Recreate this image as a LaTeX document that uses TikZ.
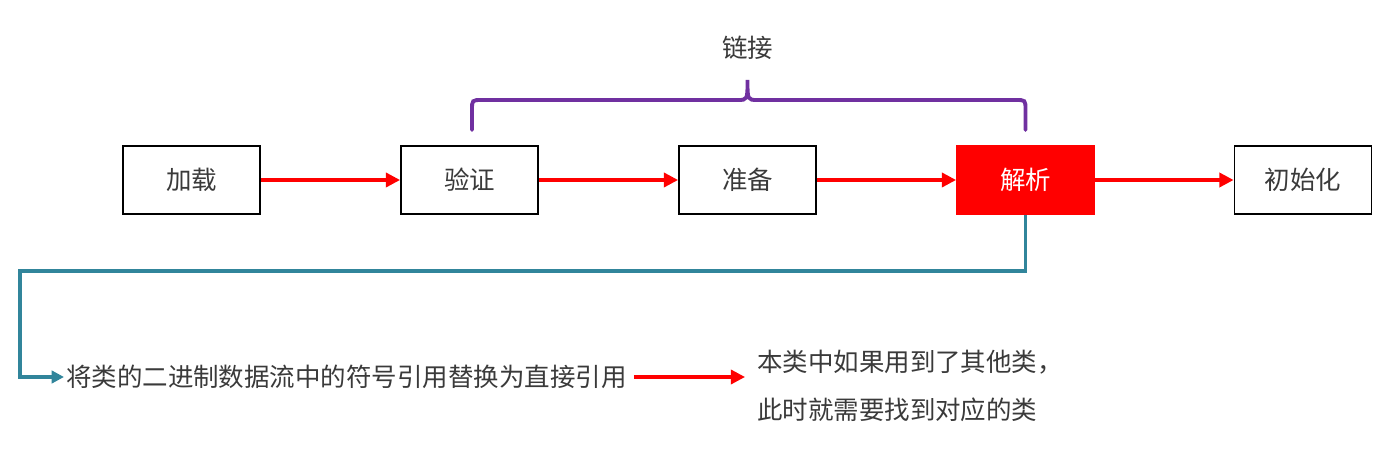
\documentclass[tikz,border=0pt]{standalone}
\usepackage{fontspec}
\setmainfont{Noto Sans CJK SC}
\usepackage{tikz}
\usetikzlibrary{arrows.meta, positioning}
\definecolor{StepRed}{RGB}{255,0,0}
\definecolor{BracePurple}{RGB}{112,48,160}
\definecolor{LinkTeal}{RGB}{49,133,155}
\definecolor{TextGray}{RGB}{58,58,58}

\begin{document}
\begin{tikzpicture}[
          stage/.style={rectangle, draw=black, line width=1.1pt, minimum width=2.74cm,
                        minimum height=1.36cm, align=center, font=\fontsize{14.5}{17}\selectfont,
                        text=TextGray},
          arr/.style={-{Triangle[length=8pt, width=8pt]}, draw=StepRed, line width=1.8pt},
          link/.style={-{Triangle[length=7pt, width=7pt]}, draw=LinkTeal, line width=1.8pt},
          note/.style={align=left, font=\fontsize{14.5}{27}\selectfont, text=TextGray}
        ]
        \useasboundingbox (0,0) rectangle (28,8.98);

        \node[stage]                   (load)  at (3.83,  5.38) {加载};
        \node[stage]                   (verify) at (9.39, 5.38) {验证};
        \node[stage]                   (prep)  at (14.95, 5.38) {准备};
        \node[stage, fill=StepRed, draw=StepRed, text=white]
                                       (resolve) at (20.51, 5.38) {解析};
        \node[stage]                   (init)  at (26.06, 5.38) {初始化};

        \draw[arr] (load)   -- (verify);
        \draw[arr] (verify) -- (prep);
        \draw[arr] (prep)   -- (resolve);
        \draw[arr] (resolve) -- (init);

        % brace over the linking phases
        \draw[draw=BracePurple, line width=2.2pt, line cap=round]
              (9.44,6.38) -- (9.44,6.78) .. controls (9.44,6.98) .. (9.64,6.98)
              -- (14.75,6.98) .. controls (14.95,6.98) .. (14.95,7.38)
              .. controls (14.95,6.98) .. (15.15,6.98)
              -- (20.31,6.98) .. controls (20.51,6.98) .. (20.51,6.78) -- (20.51,6.38);
        \node[font=\fontsize{14.5}{17}\selectfont, text=TextGray] (linking) at (14.95, 8.02) {链接};

        \node[note, anchor=west, inner sep=1pt] (desc) at (1.28, 1.44)
              {将类的二进制数据流中的符号引用替换为直接引用};
        \node[note, anchor=west, inner sep=1pt] (detail) at (15.1, 1.26)
              {本类中如果用到了其他类，\\此时就需要找到对应的类};

        \coordinate (turn) at (0.4, 3.56);
        \draw[link] (resolve.south) |- (turn) |- (desc.west);
        \draw[arr] (desc.east) ++(0.1,0) coordinate (descend) -- (14.9, 1.44) coordinate (tip);
      \end{tikzpicture}
\end{document}
